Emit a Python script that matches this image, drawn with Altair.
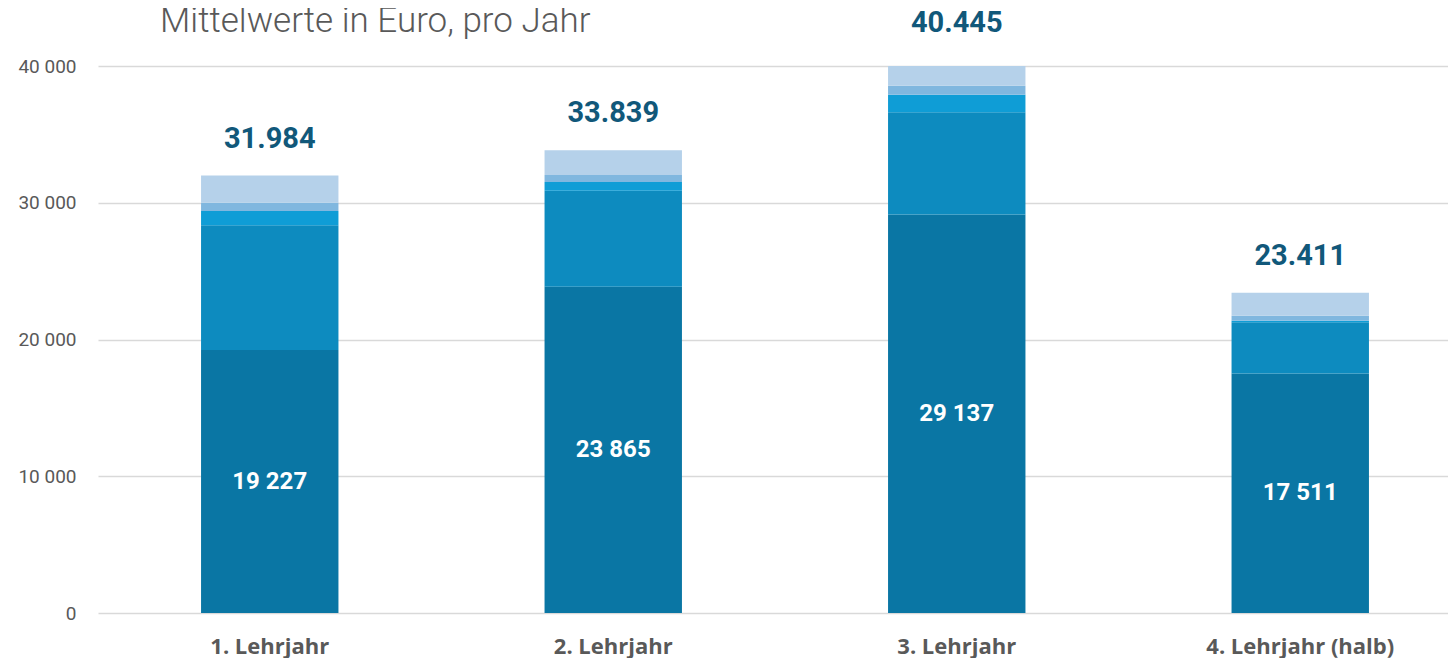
import altair as alt
import pandas as pd

categories = ["1. Lehrjahr", "2. Lehrjahr", "3. Lehrjahr", "4. Lehrjahr (halb)"]
seg1 = [19227, 23865, 29137, 17511]
seg2 = [9125, 7015, 7473, 3749]
seg3 = [1045, 640, 1290, 110]
seg4 = [600, 510, 660, 370]
seg5 = [1987, 1809, 1885, 1671]
totals = [31984, 33839, 40445, 23411]
segment_names = ["Teil 1", "Teil 2", "Teil 3", "Teil 4", "Teil 5"]
segment_colors = ["#0a76a4", "#0d8bbf", "#0f9dd6", "#80b7df", "#b5d1ea"]
y_ticks = [0, 10000, 20000, 30000, 40000]
title_text = "Mittelwerte in Euro, pro Jahr"

rows = []
for i, c in enumerate(categories):
    for j, vals in enumerate([seg1, seg2, seg3, seg4, seg5]):
        rows.append({"cat": c, "seg": segment_names[j], "idx": j, "value": vals[i]})
df = pd.DataFrame(rows)

base_df = pd.DataFrame({
    "cat": categories,
    "base": seg1,
    "mid": [v / 2 for v in seg1],
    "label": [f"{v:,}".replace(",", " ") for v in seg1],
})
tot_df = pd.DataFrame({
    "cat": categories,
    "total": totals,
    "label": [f"{v:,}".replace(",", ".") for v in totals],
})

FONT = "Roboto"
GRAY = "#595959"

x_enc = alt.X(
    "cat:N",
    sort=categories,
    scale=alt.Scale(range=[0, 1374], paddingInner=0.6, paddingOuter=0.3),
    axis=alt.Axis(
        title=None, labelAngle=0, labelFontSize=22, labelFontWeight="bold",
        labelColor=GRAY, labelFont="Open Sans", labelPadding=23, ticks=False,
        domain=False, labelLimit=500,
    ),
)
y_scale = alt.Scale(domain=[0, 40000], nice=False)

bars = alt.Chart(df).mark_bar(clip=True).encode(
    x=x_enc,
    y=alt.Y(
        "value:Q",
        stack="zero",
        scale=y_scale,
        axis=alt.Axis(
            title=None, values=y_ticks, grid=True, gridColor="#d9d9d9", gridWidth=1.5,
            ticks=False, domain=False, labelFontSize=19, labelColor=GRAY, labelFont=FONT,
            labelPadding=22,
            labelExpr="replace(format(datum.value, ','), ',', ' ')",
        ),
    ),
    color=alt.Color(
        "seg:N",
        scale=alt.Scale(domain=segment_names, range=segment_colors),
        legend=None,
    ),
    order=alt.Order("idx:Q", sort="ascending"),
)

inner = alt.Chart(base_df).mark_text(
    color="white", fontSize=24, fontWeight="bold", font=FONT, baseline="middle"
).encode(
    x=alt.X("cat:N", sort=categories),
    y=alt.Y("mid:Q"),
    text="label:N",
)

tops = alt.Chart(tot_df).mark_text(
    color="#11587a", fontSize=29, fontWeight="bold", font=FONT, baseline="middle", dy=-37
).encode(
    x=alt.X("cat:N", sort=categories),
    y=alt.Y("total:Q"),
    text="label:N",
)

title = alt.Chart(pd.DataFrame({"t": [title_text]})).mark_text(
    align="left", baseline="alphabetic", fontSize=35, color=GRAY, font=FONT, fontWeight=300
).encode(
    x=alt.value(62),
    y=alt.value(-34),
    text="t:N",
)

chart = alt.layer(bars, inner, tops, title).properties(
    width=1350,
    height=547,
    autosize="none",
    padding={"left": 90, "top": 58, "right": 0, "bottom": 45},
).configure_view(stroke=None)

chart.save("out.html", embed_options={"renderer": "svg", "actions": False})
